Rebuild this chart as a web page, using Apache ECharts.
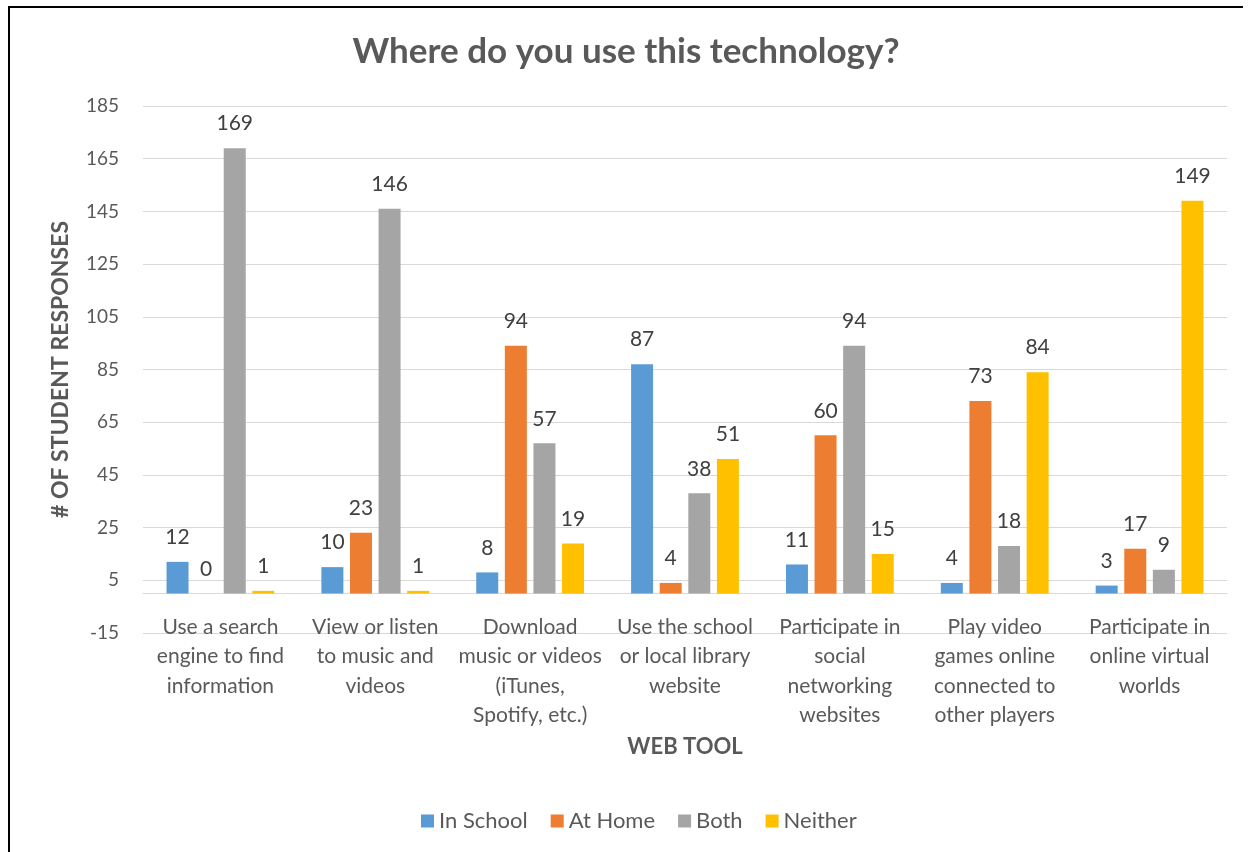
<!DOCTYPE html>
<html>
<head>
<meta charset="utf-8">
<title>Where do you use this technology?</title>
<script src="https://cdn.jsdelivr.net/npm/echarts@6/dist/echarts.min.js"></script>
<style>
  html, body { margin: 0; padding: 0; background: #ffffff; }
  #chart { width: 1252px; height: 852px; }
</style>
</head>
<body>
<div id="chart"></div>
<script>
// Web tools asked about in the survey
const categories = [
  'Use a search\nengine to find\ninformation',
  'View or listen\nto music and\nvideos',
  'Download\nmusic or videos\n(iTunes,\nSpotify, etc.)',
  'Use the school\nor local library\nwebsite',
  'Participate in\nsocial\nnetworking\nwebsites',
  'Play video\ngames online\nconnected to\nother players',
  'Participate in\nonline virtual\nworlds'
];

// Number of student responses per location
const inSchool = [12, 10, 8, 87, 11, 4, 3];
const atHome   = [0, 23, 94, 4, 60, 73, 17];
const both     = [169, 146, 57, 38, 94, 18, 9];
const neither  = [1, 1, 19, 51, 15, 84, 149];

// Value axis range
const yMin = -15;
const yMax = 185;
const yStep = 20;

const FONT = 'Lato, "Open Sans", sans-serif';
const TEXT = '#595959';

const chart = echarts.init(document.getElementById('chart'), null, { renderer: 'canvas' });

function barSeries(name, values, color) {
  return {
    name: name,
    type: 'bar',
    data: values,
    barWidth: 22,
    barGap: '30%',
    itemStyle: { color: color },
    label: {
      show: true,
      position: 'top',
      distance: 14,
      color: '#404040',
      fontSize: 21,
      fontFamily: FONT
    }
  };
}

chart.setOption({
  backgroundColor: '#ffffff',
  animation: false,
  title: {
    text: 'Where do you use this technology?',
    left: 'center',
    top: 29,
    textStyle: { color: TEXT, fontSize: 35, fontWeight: 'bold', fontFamily: FONT }
  },
  legend: {
    left: 416,
    top: 805,
    itemWidth: 13,
    itemHeight: 13,
    itemGap: 23,
    icon: 'rect',
    textStyle: { color: TEXT, fontSize: 22, fontFamily: FONT }
  },
  grid: { left: 143, right: 25, top: 106, bottom: 219, containLabel: false },
  xAxis: {
    type: 'category',
    data: categories,
    name: 'WEB TOOL',
    nameLocation: 'middle',
    nameGap: 103,
    nameTextStyle: { color: TEXT, fontSize: 22, fontWeight: 'bold', fontFamily: FONT },
    axisLine: { onZero: true, lineStyle: { color: '#d9d9d9', width: 1 } },
    axisTick: { show: false },
    axisLabel: {
      interval: 0,
      margin: -21,
      color: TEXT,
      fontSize: 21,
      lineHeight: 29.5,
      fontFamily: FONT
    }
  },
  yAxis: {
    type: 'value',
    min: yMin,
    max: yMax,
    interval: yStep,
    name: '# OF STUDENT RESPONSES',
    nameLocation: 'middle',
    nameGap: 71,
    nameTextStyle: { color: TEXT, fontSize: 23, fontWeight: 'bold', fontFamily: FONT },
    axisLine: { show: false },
    axisTick: { show: false },
    axisLabel: { margin: 24, color: TEXT, fontSize: 19, fontFamily: FONT },
    splitLine: { lineStyle: { color: '#d9d9d9', width: 1 } }
  },
  series: [
    barSeries('In School', inSchool, '#5B9BD5'),
    barSeries('At Home', atHome, '#ED7D31'),
    barSeries('Both', both, '#A5A5A5'),
    barSeries('Neither', neither, '#FFC000')
  ],
  graphic: [
    { type: 'line', shape: { x1: 9, y1: 7, x2: 1243, y2: 7 }, style: { stroke: '#000', lineWidth: 2 } },
    { type: 'line', shape: { x1: 9, y1: 6, x2: 9, y2: 852 }, style: { stroke: '#000', lineWidth: 2 } }
  ]
});
</script>
</body>
</html>
